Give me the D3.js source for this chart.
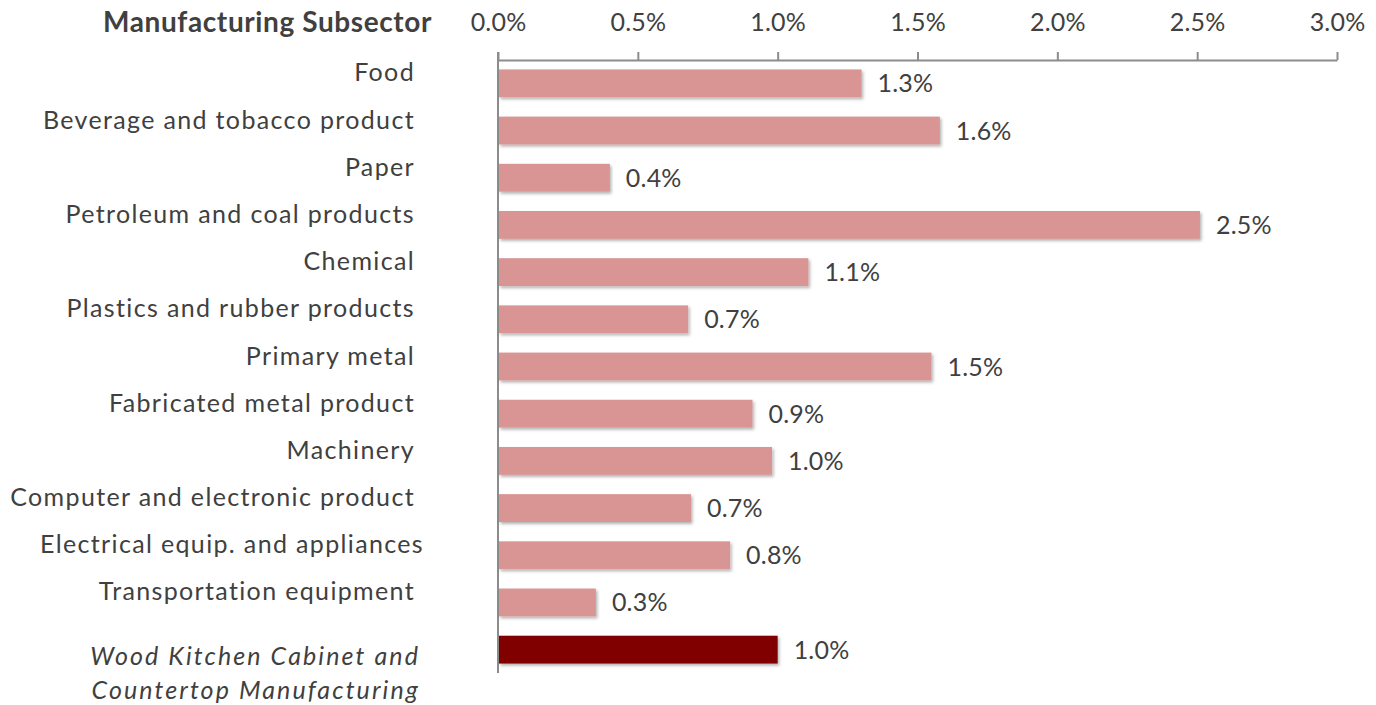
<!DOCTYPE html>
<html>
<head>
<meta charset="utf-8">
<script src="https://cdn.jsdelivr.net/npm/d3@7"></script>
<style>
  body { margin: 0; background: #fff; }
  text { font-family: Lato, "Open Sans", sans-serif; fill: #404040; }
</style>
</head>
<body>
<div id="chart"></div>
<script>
// Data
const categories = [
  "Food", "Beverage and tobacco product", "Paper", "Petroleum and coal products",
  "Chemical", "Plastics and rubber products", "Primary metal", "Fabricated metal product",
  "Machinery", "Computer and electronic product", "Electrical equip. and appliances",
  "Transportation equipment", "Wood Kitchen Cabinet and Countertop Manufacturing"
];
const values = [1.30, 1.58, 0.40, 2.51, 1.11, 0.68, 1.55, 0.91, 0.98, 0.69, 0.83, 0.35, 1.00];
const valueLabels = ["1.3%", "1.6%", "0.4%", "2.5%", "1.1%", "0.7%", "1.5%", "0.9%", "1.0%", "0.7%", "0.8%", "0.3%", "1.0%"];
const tickValues = [0, 0.5, 1.0, 1.5, 2.0, 2.5, 3.0];
const highlight = "Wood Kitchen Cabinet and Countertop Manufacturing";

const width = 1376, height = 705;

const svg = d3.select("#chart").append("svg")
  .attr("width", width)
  .attr("height", height);

const defs = svg.append("defs");
const shadow = defs.append("filter").attr("id", "shadow")
  .attr("x", "-5%").attr("y", "-20%").attr("width", "115%").attr("height", "160%");
shadow.append("feDropShadow")
  .attr("dx", 1.5).attr("dy", 2).attr("stdDeviation", 1.5)
  .attr("flood-color", "#000").attr("flood-opacity", 0.3);

const x = d3.scaleLinear().domain([0, 3]).range([498, 1337]);
const y = d3.scaleBand().domain(categories).range([60, 673]).paddingInner(0.41).paddingOuter(0.2);

// axis on top
const axis = svg.append("g").attr("transform", "translate(0,60)")
  .call(d3.axisTop(x).tickValues(tickValues).tickSize(8).tickSizeOuter(0)
    .tickFormat(d => d.toFixed(1) + "%"));
axis.attr("font-family", null).attr("font-size", null);
axis.select(".domain").attr("stroke", "#8c8c8c").attr("stroke-width", 2);
axis.selectAll(".tick line").attr("stroke", "#8c8c8c").attr("stroke-width", 2);
axis.selectAll(".tick text")
  .attr("y", -29).attr("dy", null)
  .style("font-size", "25px").style("letter-spacing", "0.2px")
  .attr("fill", "#404040");

// vertical baseline
svg.append("line")
  .attr("x1", x(0)).attr("x2", x(0))
  .attr("y1", 52).attr("y2", 673)
  .attr("stroke", "#8c8c8c").attr("stroke-width", 2);

// header
svg.append("text")
  .attr("x", 432).attr("y", 32)
  .attr("text-anchor", "end")
  .style("font-size", "28px").style("font-weight", "bold")
  .style("letter-spacing", "0.6px")
  .text("Manufacturing Subsector");

// bars
svg.selectAll("rect.bar")
  .data(categories)
  .join("rect")
  .attr("class", "bar")
  .attr("x", x(0) + 1)
  .attr("y", d => y(d))
  .attr("width", (d, i) => x(values[i]) - x(0) - 1)
  .attr("height", y.bandwidth())
  .attr("fill", d => d === highlight ? "#800000" : "#d99594")
  .attr("filter", "url(#shadow)");

// value labels
svg.selectAll("text.val")
  .data(categories)
  .join("text")
  .attr("class", "val")
  .attr("x", (d, i) => x(values[i]) + 16)
  .attr("y", d => y(d) + y.bandwidth() / 2)
  .attr("dy", "0.36em")
  .style("font-size", "25px").style("letter-spacing", "0.2px")
  .text((d, i) => valueLabels[i]);

// category labels (sit a bit above bar centres, as in the original)
svg.selectAll("text.cat")
  .data(categories.filter(d => d !== highlight))
  .join("text")
  .attr("class", "cat")
  .attr("x", d => d === "Electrical equip. and appliances" ? 424 : 415)
  .attr("y", d => y(d) + y.bandwidth() / 2 - 11)
  .attr("dy", "0.36em")
  .attr("text-anchor", "end")
  .style("font-size", "25px").style("letter-spacing", "1.35px")
  .text(d => d);

const hl = svg.append("text")
  .attr("x", 420)
  .attr("y", y(highlight) + y.bandwidth() / 2 + 6)
  .attr("text-anchor", "end")
  .style("font-size", "25px")
  .style("font-style", "italic").style("letter-spacing", "2.1px");
hl.append("tspan").attr("x", 420).attr("dy", "0.36em").text("Wood Kitchen Cabinet and");
hl.append("tspan").attr("x", 420).attr("dy", "1.36em").text("Countertop Manufacturing");
</script>
</body>
</html>
